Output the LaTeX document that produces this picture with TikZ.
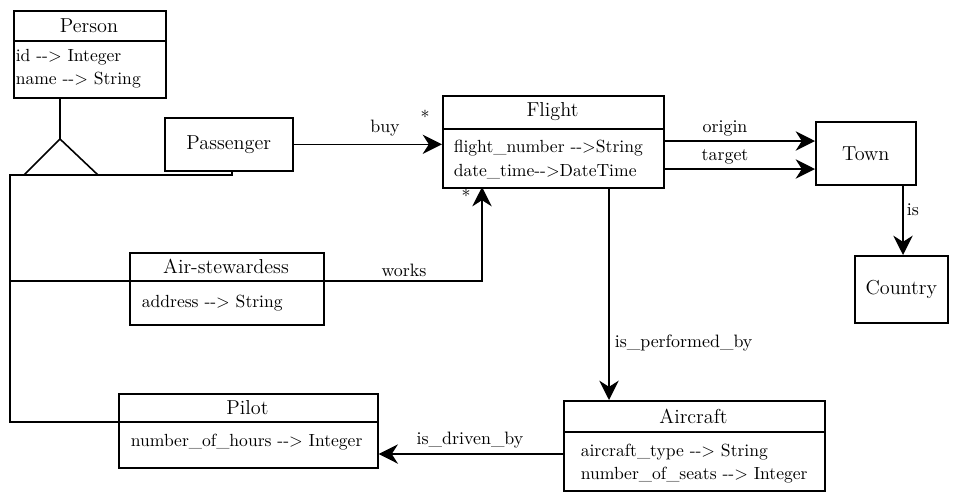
\documentclass[tikz,border=0pt]{standalone}
\usepackage{fontspec}
\usetikzlibrary{arrows.meta}
\newcommand{\gives}{\mbox{-}\mbox{-}>}

\begin{document}
\begin{tikzpicture}[line width=0.9pt,
	box/.style = {draw, anchor=north west, inner sep=0pt},
	title/.style = {font=\fontsize{11.5}{14}\selectfont, inner sep=0pt},
	attr/.style = {font=\fontsize{10}{12}\selectfont, anchor=west, inner sep=0pt},
	lab/.style = {font=\fontsize{10.2}{12}\selectfont, inner sep=0pt},
	arr/.style = {-{Stealth[length=11pt, width=11pt, inset=3.5pt]}}]

	\useasboundingbox (0,0) rectangle (19.08,-9.86);

	% classes
	\node[box, minimum width=3.04cm, minimum height=1.74cm] (person) at (0.26,-0.20) {};
	\node[title] (person-t) at (1.78,-0.51) {Person};
	\draw (0.26,-0.82) -- (3.30,-0.82);
	\node[attr] (person-a1) at (0.30,-1.14) {id \gives{} Integer};
	\node[attr] (person-a2) at (0.30,-1.60) {name \gives{} String};

	\node[box, minimum width=2.56cm, minimum height=1.06cm] (passenger) at (3.28,-2.34) {};
	\node[title] (passenger-t) at (passenger.center) {Passenger};

	\node[box, minimum width=4.42cm, minimum height=1.84cm] (flight) at (8.84,-1.90) {};
	\node[title] (flight-t) at (11.05,-2.24) {Flight};
	\draw (8.84,-2.58) -- (13.26,-2.58);
	\node[attr] (flight-a1) at (9.06,-2.96) {flight\_number \gives{}String};
	\node[attr] (flight-a2) at (9.06,-3.44) {date\_time\gives{}DateTime};

	\node[box, minimum width=2.00cm, minimum height=1.26cm] (town) at (16.30,-2.42) {};
	\node[title] (town-t) at (town.center) {Town};

	\node[box, minimum width=1.86cm, minimum height=1.34cm] (country) at (17.08,-5.10) {};
	\node[title] (country-t) at (country.center) {Country};

	\node[box, minimum width=3.88cm, minimum height=1.44cm] (stew) at (2.58,-5.04) {};
	\node[title] (stew-t) at (4.52,-5.32) {Air-stewardess};
	\draw (2.58,-5.62) -- (6.46,-5.62);
	\node[attr] (stew-a1) at (2.82,-6.06) {address \gives{} String};

	\node[box, minimum width=5.18cm, minimum height=1.48cm] (pilot) at (2.36,-7.86) {};
	\node[title] (pilot-t) at (4.95,-8.16) {Pilot};
	\draw (2.36,-8.44) -- (7.54,-8.44);
	\node[attr] (pilot-a1) at (2.60,-8.84) {number\_of\_hours \gives{} Integer};

	\node[box, minimum width=5.22cm, minimum height=1.80cm] (aircraft) at (11.26,-8.00) {};
	\node[title] (aircraft-t) at (13.87,-8.32) {Aircraft};
	\draw (11.26,-8.64) -- (16.48,-8.64);
	\node[attr] (aircraft-a1) at (11.60,-9.04) {aircraft\_type \gives{} String};
	\node[attr] (aircraft-a2) at (11.60,-9.50) {number\_of\_seats \gives{} Integer};

	% inheritance
	\coordinate (gen) at (1.20,-2.78);
	\coordinate (rail) at (0.20,-3.50);
	\draw (person.south -| gen) -- (gen);
	\draw (gen) -- (0.48,-3.50) -- (1.96,-3.50) -- cycle;
	\draw (passenger.south -| 4.64,0) -- (4.64,-3.50) -- (rail) -- (0.20,-8.44) -- (pilot.west |- 0,-8.44);
	\draw (0.20,-5.62) -- (stew.west |- 0,-5.62);

	% associations
	\draw[arr] (passenger.east) -- (passenger.east -| flight.west);
	\node[lab] (buy) at (7.70,-2.56) {buy};
	\node[lab] (buy-m) at (8.50,-2.34) {*};

	\draw[arr] (stew.east |- 0,-5.62) -- (9.64,-5.62) -- (9.64,-3.74);
	\node[lab] (works) at (8.08,-5.40) {works};
	\node[lab] (works-m) at (9.32,-3.92) {*};

	\draw[arr] (13.26,-2.82) -- (16.30,-2.82);
	\node[lab] (origin) at (14.50,-2.56) {origin};
	\draw[arr] (13.26,-3.38) -- (16.30,-3.38);
	\node[lab] (target) at (14.50,-3.14) {target};

	\draw[arr] (18.06,-3.68) -- (18.06,-5.10);
	\node[lab] (is) at (18.26,-4.20) {is};

	\draw[arr] (12.18,-3.74) -- (12.18,-8.00);
	\node[lab, anchor=west] (perf) at (12.28,-6.86) {is\_performed\_by};

	\draw[arr] (aircraft.west |- 0,-9.08) -- (pilot.east |- 0,-9.08);
	\node[lab] (driven) at (9.40,-8.80) {is\_driven\_by};
\end{tikzpicture}
\end{document}
